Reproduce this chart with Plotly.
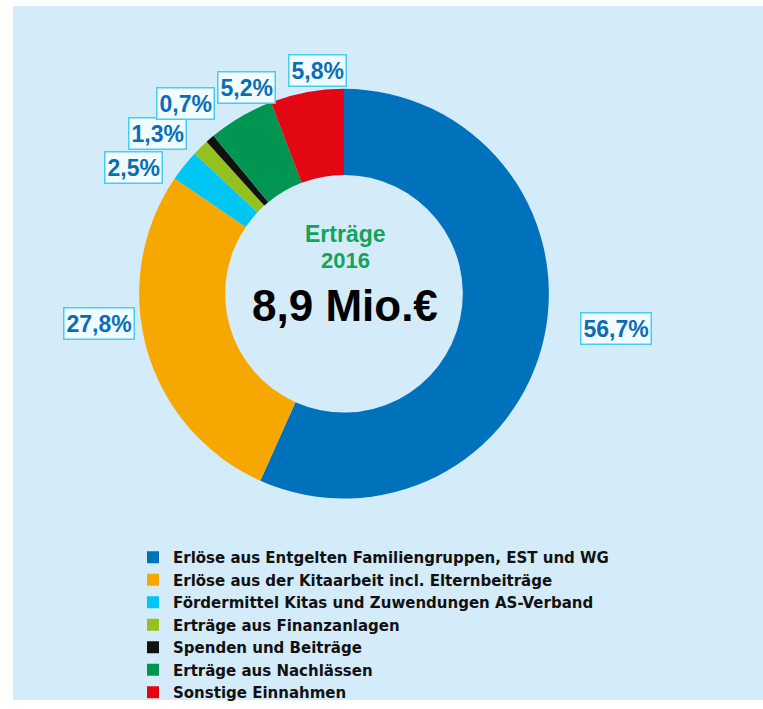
import plotly.graph_objects as go

W, H = 763, 709

categories = [
    "Erlöse aus Entgelten Familiengruppen, EST und WG",
    "Erlöse aus der Kitaarbeit incl. Elternbeiträge",
    "Fördermittel Kitas und Zuwendungen AS-Verband",
    "Erträge aus Finanzanlagen",
    "Spenden und Beiträge",
    "Erträge aus Nachlässen",
    "Sonstige Einnahmen",
]
shares = [56.7, 27.8, 2.5, 1.3, 0.7, 5.2, 5.8]
share_labels = ["56,7%", "27,8%", "2,5%", "1,3%", "0,7%", "5,2%", "5,8%"]
colors = ["#0072bc", "#f6a800", "#00c6f4", "#95c11f", "#111111", "#009550", "#e30613"]

# label box centres in page pixels (layout only)
label_pos = [(615.5, 332.5), (98.5, 327.5), (133, 170), (157, 135.5),
             (185, 104.5), (246.7, 88.7), (317, 71)]


def px(x):
    return x / W


def py(y):
    return 1 - y / H


cx, cy, R = 344, 297.5, 207.5

fig = go.Figure()
fig.add_trace(go.Pie(
    labels=[f"<b>{c}</b>" for c in categories],
    values=shares,
    sort=False,
    direction="clockwise",
    rotation=0,
    hole=0.58,
    marker=dict(colors=colors, line=dict(width=0)),
    textinfo="none",
    hoverinfo="label+percent",
    domain=dict(x=[px(cx - R), px(cx + R)], y=[py(cy + R), py(cy - R)]),
    showlegend=True,
))

annotations = []
for txt, (lx, ly) in zip(share_labels, label_pos):
    annotations.append(dict(
        x=px(lx), y=py(ly), xref="paper", yref="paper",
        text=f"<b>{txt}</b>", showarrow=False,
        font=dict(family="Liberation Sans, Arial, sans-serif", size=23, color="#0a6db5"),
        bgcolor="#f0fcff", bordercolor="#45cdf5", borderwidth=1.5, borderpad=2,
        xanchor="center", yanchor="middle",
    ))

center_font = "Liberation Sans, Arial, sans-serif"
annotations += [
    dict(x=px(cx + 1), y=py(237), xref="paper", yref="paper", text="<b>Erträge</b>",
         showarrow=False, font=dict(family=center_font, size=23, color="#14a35a"),
         xanchor="center", yanchor="middle"),
    dict(x=px(cx + 1), y=py(264), xref="paper", yref="paper", text="<b>2016</b>",
         showarrow=False, font=dict(family=center_font, size=22, color="#14a35a"),
         xanchor="center", yanchor="middle"),
    dict(x=px(cx + 1), y=py(309), xref="paper", yref="paper", text="<b>8,9 Mio.€</b>",
         showarrow=False, font=dict(family=center_font, size=44, color="#000000"),
         xanchor="center", yanchor="middle"),
]

fig.update_layout(
    width=W, height=H,
    margin=dict(l=0, r=0, t=0, b=0),
    paper_bgcolor="white",
    plot_bgcolor="white",
    annotations=annotations,
    shapes=[dict(type="rect", xref="paper", yref="paper", x0=px(13), x1=1, y0=0, y1=py(6),
                 fillcolor="#d4ebfa", line=dict(width=0), layer="below")],
    legend=dict(
        x=px(133), y=py(548), xanchor="left", yanchor="top",
        font=dict(family="DejaVu Sans", size=15, color="#111111"),
        bgcolor="rgba(0,0,0,0)", traceorder="normal",
    ),
)

fig.write_html(
    "out.html",
    config={"displayModeBar": False},
    post_script=(
        "document.documentElement.style.margin='0';"
        "document.body.style.margin='0';"
        "document.body.style.overflow='hidden';"
    ),
)
